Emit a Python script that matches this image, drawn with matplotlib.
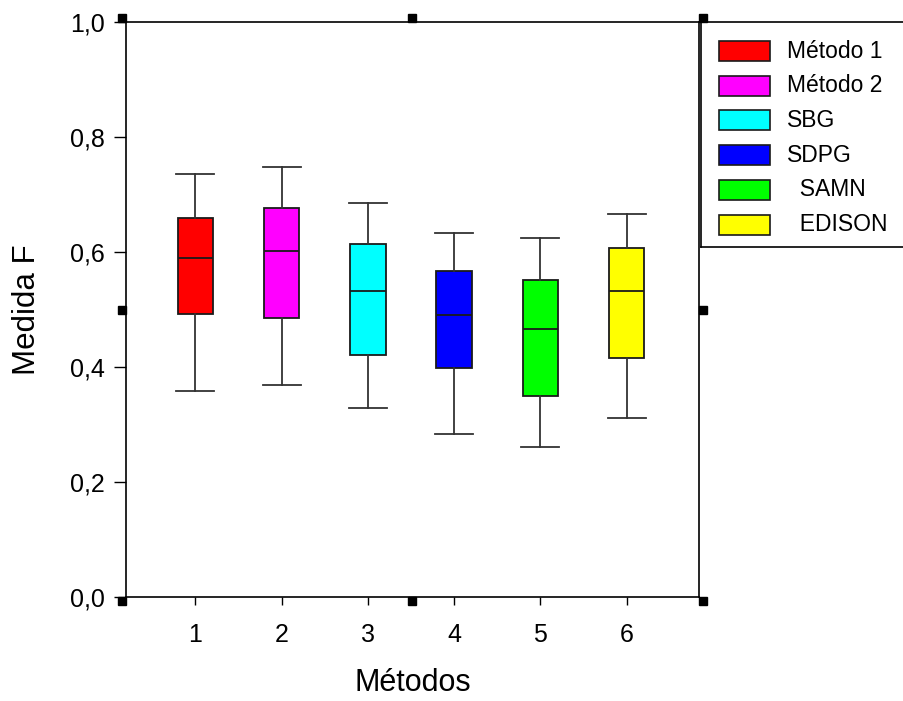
"""
Boxplot de la Medida F por método.
"""

import matplotlib
matplotlib.use("Agg")
import matplotlib.pyplot as plt
from matplotlib.patches import Rectangle
from matplotlib.transforms import ScaledTranslation

plt.rcParams["font.family"] = ["Liberation Sans", "DejaVu Sans"]

# datos
posiciones = [1, 2, 3, 4, 5, 6]
bigote_sup = [0.736, 0.748, 0.685, 0.633, 0.624, 0.666]
q3 = [0.659, 0.677, 0.614, 0.567, 0.551, 0.607]
mediana = [0.590, 0.602, 0.532, 0.490, 0.466, 0.532]
q1 = [0.492, 0.485, 0.421, 0.398, 0.350, 0.416]
bigote_inf = [0.358, 0.369, 0.329, 0.283, 0.261, 0.311]

nombres = ["Método 1", "Método 2", "SBG", "SDPG", "  SAMN", "  EDISON"]
colores = ["#FF0000", "#FF00FF", "#00FFFF", "#0000FF", "#00FF00", "#FFFF00"]

yticks = [0.0, 0.2, 0.4, 0.6, 0.8, 1.0]
yticklabels = ["0,0", "0,2", "0,4", "0,6", "0,8", "1,0"]

W, H = 904, 701
fig = plt.figure(figsize=(W / 100, H / 100), dpi=100)
ax = fig.add_axes([126 / W, (H - 597) / H, (699 - 126) / W, (597 - 22) / H])

stats = [
    {"whislo": lo, "q1": a, "med": m, "q3": b, "whishi": hi}
    for lo, a, m, b, hi in zip(bigote_inf, q1, mediana, q3, bigote_sup)
]
bp = ax.bxp(
    stats, positions=posiciones, widths=0.41, capwidths=0.44,
    patch_artist=True, showfliers=False,
    boxprops=dict(edgecolor="#1a1a1a", linewidth=1.3),
    medianprops=dict(color="#1a1a1a", linewidth=1.3),
    whiskerprops=dict(color="#333333", linewidth=1.3),
    capprops=dict(color="#333333", linewidth=1.3),
)
for caja, c in zip(bp["boxes"], colores):
    caja.set_facecolor(c)

ax.set_xlim(0.195, 6.84)
ax.set_ylim(0, 1)
ax.set_xticks(posiciones)
ax.set_yticks(yticks)
ax.set_yticklabels(yticklabels)
ax.tick_params(axis="x", direction="out", length=6, width=1, pad=13, labelsize=18, top=False)
ax.tick_params(axis="y", direction="out", length=8.5, width=1, pad=7, labelsize=18, right=False)
for sp in ax.spines.values():
    sp.set_linewidth(1.2)

ax.set_xlabel("Métodos", fontsize=22, labelpad=15)
ax.set_ylabel("Medida F", fontsize=22.5, labelpad=20)

# cuadraditos del marco (esquinas y centros)
d = 0.04
marcas = [(0, 1, -d, d), (0.5, 1, 0, d), (1, 1, d, d),
          (0, 0.5, -d, 0), (1, 0.5, d, 0),
          (0, 0, -d, -d), (0.5, 0, 0, -d), (1, 0, d, -d)]
for mx, my, dx, dy in marcas:
    tr = ax.transAxes + ScaledTranslation(dx, dy, fig.dpi_scale_trans)
    ax.plot([mx], [my], marker="s", ms=5.2, color="black", transform=tr, clip_on=False)

# leyenda dibujada a mano
lax = fig.add_axes([701.5 / W, (H - 247) / H, (920 - 701.5) / W, (247 - 22) / H])
lax.set_xlim(0, 218.5)
lax.set_ylim(225, 0)
lax.set_xticks([])
lax.set_yticks([])
lax.patch.set_alpha(0)
for sp in lax.spines.values():
    sp.set_linewidth(1.2)
for i, (nom, c) in enumerate(zip(nombres, colores)):
    yc = 29 + i * 34.7
    lax.add_patch(Rectangle((17.5, yc - 10), 51, 20, facecolor=c, edgecolor="#1a1a1a", linewidth=1.2))
    lax.text(85.5, yc, nom, fontsize=16.5, va="center", ha="left")

fig.savefig("out.png", dpi=100)
plt.close(fig)
